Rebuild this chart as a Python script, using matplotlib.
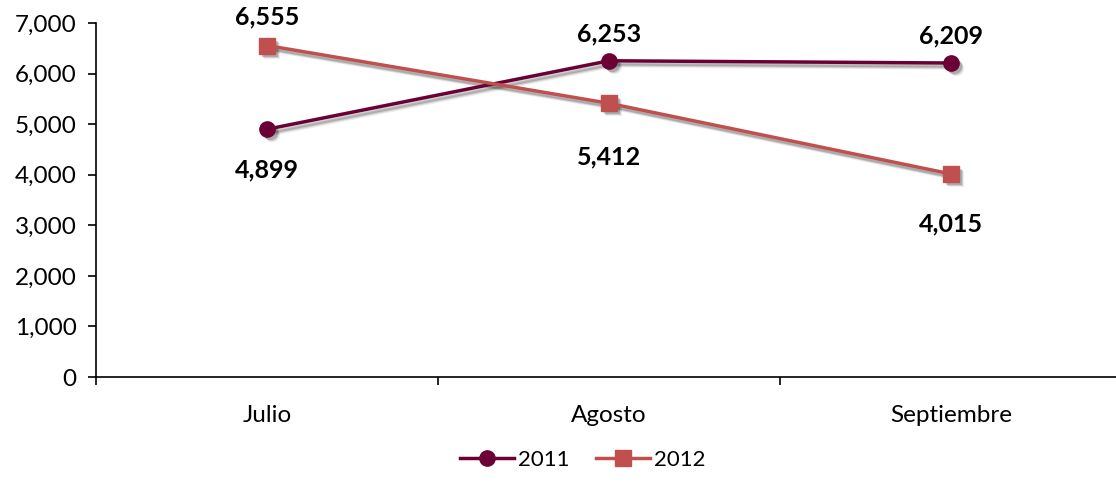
import matplotlib.pyplot as plt
import matplotlib.transforms as mtransforms
import numpy as np

# data
months = ['Julio', 'Agosto', 'Septiembre']
v2011 = [4899, 6253, 6209]
v2012 = [6555, 5412, 4015]

# label placement (pixels, + above / - below)
off2011 = [-41, 27, 27]
off2012 = [29, -54, -50]

c2011 = '#6B0035'
c2012 = '#C0504D'
plt.rcParams['font.family'] = ['Lato', 'DejaVu Sans']

fig = plt.figure(figsize=(11.16, 4.95), dpi=100)
ax = fig.add_axes([96/1116, 1 - 377/495, 1026/1116, 354/495])

x = np.arange(len(months))

# soft drop shadow (Excel style), drawn under the series
for dx, a in [(3, 0.18), (4, 0.12), (5, 0.07)]:
    sh = mtransforms.offset_copy(ax.transData, fig=fig, x=dx, y=-dx, units='dots')
    ax.plot(x, v2011, color='#000000', alpha=a, lw=2.5, marker='o', ms=11, mew=0,
            transform=sh, zorder=2)
    ax.plot(x, v2012, color='#000000', alpha=a, lw=2.5, marker='s', ms=11, mew=0,
            transform=sh, zorder=2)

ax.plot(x, v2011, color=c2011, lw=2.5, marker='o', ms=11, label='2011', zorder=3)
ax.plot(x, v2012, color=c2012, lw=2.5, marker='s', ms=11, label='2012', zorder=3)

for xi, v, o in zip(x, v2011, off2011):
    ax.annotate(f'{v:,}', (xi, v), xytext=(0, o), textcoords='offset pixels',
                ha='center', va='center', fontsize=18, fontweight='bold')
for xi, v, o in zip(x, v2012, off2012):
    ax.annotate(f'{v:,}', (xi, v), xytext=(0, o), textcoords='offset pixels',
                ha='center', va='center', fontsize=18, fontweight='bold')

ax.set_xlim(-0.5, 2.5)
ax.set_ylim(0, 7000)
ax.set_yticks(range(0, 7001, 1000))
ax.set_yticklabels([f'{t:,}' for t in range(0, 7001, 1000)], fontsize=17.5)
ax.set_xticks(x)
ax.set_xticklabels(months, fontsize=17.5)
ax.tick_params(axis='x', length=0, pad=20)
ax.set_xticks([-0.5, 0.5, 1.5, 2.5], minor=True)
ax.tick_params(axis='x', which='minor', length=6, width=1.2, direction='out')
ax.tick_params(axis='y', length=6, width=1.2, direction='out', pad=8)
for s in ['top', 'right']:
    ax.spines[s].set_visible(False)
for s in ['left', 'bottom']:
    ax.spines[s].set_linewidth(1.2)

handles, labels = ax.get_legend_handles_labels()
fig.legend(handles, labels, loc='center', bbox_to_anchor=(583/1116, 1 - 460/495), ncol=2,
           frameon=False, fontsize=16, handlelength=2.4, columnspacing=1.2, handletextpad=0.2)

fig.savefig('out.png', dpi=100)
